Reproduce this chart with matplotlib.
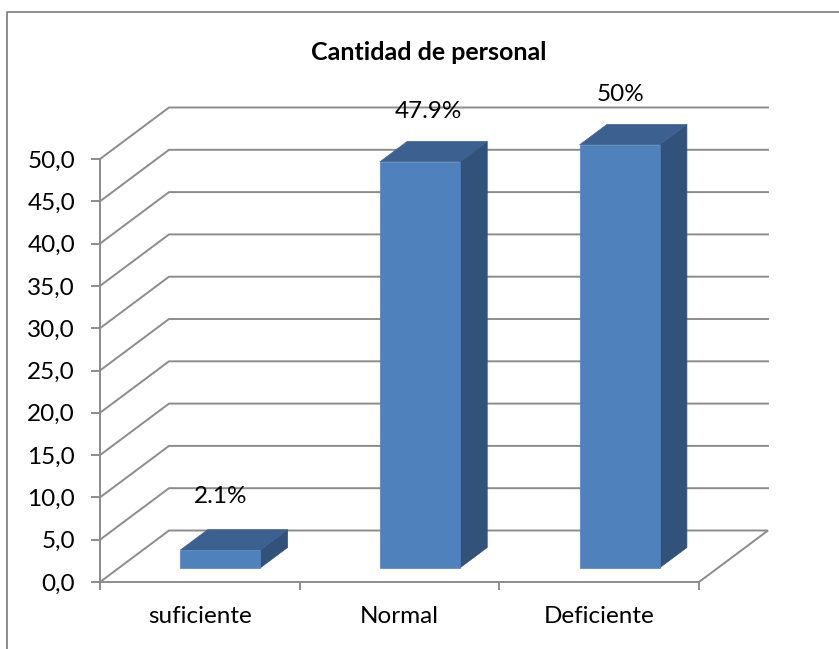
import matplotlib
matplotlib.use("Agg")
import matplotlib.pyplot as plt
from matplotlib.patches import Polygon
from matplotlib.lines import Line2D

categories = ["suficiente", "Normal", "Deficiente"]
values = [2.1, 48.0, 50.0]
value_labels = ["2.1%", "47.9%", "50%"]
y_ticks = [0, 5, 10, 15, 20, 25, 30, 35, 40, 45, 50]
y_tick_labels = ["0,0", "5,0", "10,0", "15,0", "20,0", "25,0", "30,0", "35,0", "40,0", "45,0", "50,0"]
title = "Cantidad de personal"

W, H = 839, 649
plt.rcParams["font.family"] = ["Lato", "DejaVu Sans"]
fig = plt.figure(figsize=(W / 100, H / 100), dpi=100, facecolor="white")

L, R, T, B = 100, 699, 159, 582
ax = fig.add_axes([L / W, 1 - B / H, (R - L) / W, (B - T) / H])
ax.set_xlim(0, 3)
ax.set_ylim(0, 50)
ax.patch.set_visible(False)

GREY = "#8c8c8c"
FS = 17.5
# depth of the 3D box, expressed in data units
DX = 69 / (R - L) * 3
DY = 51.5 / (B - T) * 50


def proj(x, y, d):
    return (x + d * DX, y + d * DY)


# walls: gridlines
for v in y_ticks[1:]:
    ax.add_line(Line2D([0, DX, 3 + DX], [v, v + DY, v + DY], color=GREY, lw=1.4, clip_on=False, zorder=1))
# floor
ax.add_line(Line2D([0, DX, 3 + DX, 3], [0, DY, DY, 0], color=GREY, lw=1.4, clip_on=False, zorder=1,
                   solid_joinstyle="miter"))

# bars
BW = 80 / (R - L) * 3
D0, D1 = 0.275, 0.67
SHIFT = 1.5 / (R - L) * 3
for i, v in enumerate(values):
    x0 = i + 0.5 - BW / 2 + SHIFT
    x1 = x0 + BW
    f = [proj(x0, 0, D0), proj(x1, 0, D0), proj(x1, v, D0), proj(x0, v, D0)]
    t = [proj(x0, v, D0), proj(x1, v, D0), proj(x1, v, D1), proj(x0, v, D1)]
    s = [proj(x1, 0, D0), proj(x1, 0, D1), proj(x1, v, D1), proj(x1, v, D0)]
    ax.add_patch(Polygon(s, closed=True, fc="#32527a", ec="#32527a", lw=0.5, clip_on=False, zorder=3))
    ax.add_patch(Polygon(t, closed=True, fc="#3c6191", ec="#3c6191", lw=0.5, clip_on=False, zorder=3))
    ax.add_patch(Polygon(f, closed=True, fc="#4f81bd", ec="#4f81bd", lw=0.5, clip_on=False, zorder=4))

# axes
for side in ("top", "right"):
    ax.spines[side].set_visible(False)
for side in ("left", "bottom"):
    ax.spines[side].set_color(GREY)
    ax.spines[side].set_linewidth(1.4)
ax.set_yticks(y_ticks)
ax.set_yticklabels(y_tick_labels, fontsize=FS, color="black")
ax.set_xticks([0, 1, 2, 3])
ax.set_xticklabels([])
ax.set_xticks([0.5, 1.5, 2.5], minor=True)
ax.set_xticklabels(categories, minor=True, fontsize=FS, color="black")
ax.tick_params(axis="y", length=6.5, width=1.4, color=GREY, pad=11.5)
ax.tick_params(axis="x", which="major", length=6, width=1.4, color=GREY)
ax.tick_params(axis="x", which="minor", length=0, pad=17.5)

# value labels (pixel offsets from the top of each bar's front face)
label_dx = [20, 28, 20]
label_dy = [54, 50, 50]
for i, (v, s) in enumerate(zip(values, value_labels)):
    ax.annotate(s, proj(i + 0.5, v, D0), xytext=(label_dx[i] - 18, label_dy[i]),
                textcoords="offset pixels", ha="center", va="center",
                fontsize=FS, color="black", annotation_clip=False, zorder=6)

fig.text(429 / W, 1 - 52 / H, title, ha="center", va="center", fontsize=18, fontweight="bold", color="black")

# chart frame
fig.add_artist(Line2D([7 / W, 7 / W, 1], [0, 1 - 12 / H, 1 - 12 / H], color=GREY, lw=1.4,
                      transform=fig.transFigure))

fig.savefig("out.png", dpi=100, facecolor="white")
